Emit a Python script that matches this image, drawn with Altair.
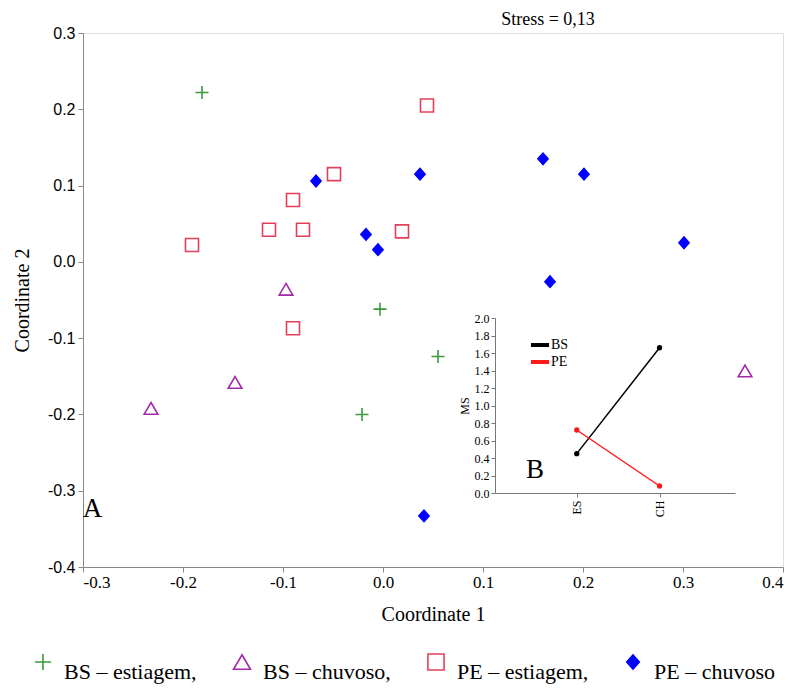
import altair as alt
import pandas as pd

# ---- main NMDS data ----
groups = ["BS – estiagem", "BS – chuvoso", "PE – estiagem", "PE – chuvoso"]
bs_est_x = [-0.181, -0.003, 0.055, -0.021]
bs_est_y = [0.222, -0.062, -0.124, -0.200]
bs_chu_x = [-0.097, -0.148, -0.232, 0.362]
bs_chu_y = [-0.036, -0.158, -0.192, -0.143]
pe_est_x = [0.044, -0.049, -0.090, -0.114, -0.080, -0.191, 0.019, -0.090]
pe_est_y = [0.205, 0.115, 0.081, 0.042, 0.042, 0.022, 0.040, -0.087]
pe_chu_x = [-0.067, 0.037, 0.160, 0.201, -0.017, -0.005, 0.301, 0.167, 0.041]
pe_chu_y = [0.106, 0.115, 0.135, 0.115, 0.036, 0.016, 0.025, -0.026, -0.333]

x_ticks = [-0.3, -0.2, -0.1, 0.0, 0.1, 0.2, 0.3, 0.4]
y_ticks = [-0.4, -0.3, -0.2, -0.1, 0.0, 0.1, 0.2, 0.3]

# ---- inset data ----
inset_periods = ["ES", "CH"]
inset_sites = ["BS", "PE"]
bs_ms = [0.45, 1.66]
pe_ms = [0.72, 0.08]
ms_ticks = [0.0, 0.2, 0.4, 0.6, 0.8, 1.0, 1.2, 1.4, 1.6, 1.8, 2.0]

colors = ["#3a9a3a", "#a22aa8", "#e4405e", "#0000ff"]
fills = ["transparent", "transparent", "transparent", "#0000ff"]
shapes = ["M-1,0H1M0,-1V1", "M0,-0.9L1.05,0.9L-1.05,0.9Z",
          "M-1,-1H1V1H-1Z", "M-0.78,0L0,-0.88L0.78,0L0,0.88Z"]

rows = []
for g, xs, ys in zip(groups, [bs_est_x, bs_chu_x, pe_est_x, pe_chu_x],
                     [bs_est_y, bs_chu_y, pe_est_y, pe_chu_y]):
    for a, b in zip(xs, ys):
        rows.append({"group": g, "c1": a, "c2": b})
df = pd.DataFrame(rows)

inset_rows = []
for s, vals in zip(inset_sites, [bs_ms, pe_ms]):
    for p, v in zip(inset_periods, vals):
        inset_rows.append({"site": s, "period": p, "ms": v})
dfi = pd.DataFrame(inset_rows)

SERIF = "Liberation Serif"
SANS = "Liberation Sans"
HYPHEN = "replace(format(datum.value, '.1f'), '\u2212', '-')"

xscale = alt.Scale(domain=[-0.3, 0.4], nice=False, zero=False)
yscale = alt.Scale(domain=[-0.4, 0.3], nice=False, zero=False)

legend_main = alt.Legend(
    title=None, orient="none", legendX=-51, legendY=618, direction="horizontal",
    labelFont=SERIF, labelFontSize=22, labelColor="black", labelBaseline="top",
    labelOffset=10, columnPadding=33, symbolSize=260, symbolStrokeWidth=1.6,
    padding=0, labelLimit=300,
    labelExpr="datum.label == 'PE – chuvoso' ? datum.label : datum.label + ','",
)

points = alt.Chart(df).mark_point(filled=False, size=169, strokeWidth=1.6, opacity=1).encode(
    x=alt.X("c1:Q", scale=xscale,
            axis=alt.Axis(title="Coordinate 1", values=x_ticks, labelExpr=HYPHEN, grid=False,
                          labelFont=SERIF, labelFontSize=17, titleFont=SERIF,
                          titleFontSize=20, titleFontWeight="normal", titlePadding=14,
                          labelPadding=2)),
    y=alt.Y("c2:Q", scale=yscale,
            axis=alt.Axis(title="Coordinate 2", values=y_ticks, labelExpr=HYPHEN, grid=False,
                          labelFont=SANS, labelFontSize=16, titleFont=SERIF,
                          titleFontSize=20, titleFontWeight="normal", titlePadding=15,
                          labelPadding=3)),
    stroke=alt.Stroke("group:N", scale=alt.Scale(domain=groups, range=colors), legend=legend_main),
    fill=alt.Fill("group:N", scale=alt.Scale(domain=groups, range=fills), legend=legend_main),
    shape=alt.Shape("group:N", scale=alt.Scale(domain=groups, range=shapes), legend=legend_main),
)

ann = pd.DataFrame({"c1": [0.165, -0.2905], "c2": [0.3175, -0.324],
                    "t": ["Stress = 0,13", "A"]})
stress = alt.Chart(ann.iloc[[0]]).mark_text(font=SERIF, fontSize=18, color="black").encode(
    x=alt.X("c1:Q", scale=xscale), y=alt.Y("c2:Q", scale=yscale), text="t:N")
label_a = alt.Chart(ann.iloc[[1]]).mark_text(font=SERIF, fontSize=27, color="black").encode(
    x=alt.X("c1:Q", scale=xscale), y=alt.Y("c2:Q", scale=yscale), text="t:N")

main = alt.layer(points, stress, label_a)

# ---- inset ----
ix = alt.X("period:N", sort=inset_periods,
           scale=alt.Scale(domain=inset_periods, range=[412, 652], padding=0.95, align=0.52),
           axis=alt.Axis(title=None, orient="bottom", offset=-74, labelAngle=270, grid=False,
                         labelFont=SERIF, labelFontSize=12, domainColor="#777777",
                         tickColor="#777777", tickSize=4, labelPadding=3))
iy = alt.Y("ms:Q", scale=alt.Scale(domain=[0, 2], nice=False, range=[460, 285]),
           axis=alt.Axis(title="MS", orient="left", offset=-412, values=ms_ticks, format=".1f",
                         grid=False,
                         labelFont=SERIF, labelFontSize=12, titleFont=SERIF, titleFontSize=12,
                         titleFontWeight="normal", titlePadding=3, domainColor="#777777",
                         tickColor="#777777", tickSize=4, labelPadding=2))
icolor = alt.Color("site:N", scale=alt.Scale(domain=inset_sites, range=["black", "#ff1a1a"]),
                   legend=alt.Legend(title=None, orient="none", legendX=448, legendY=303,
                                     symbolType="M-1.35,0H1.35", symbolStrokeWidth=4,
                                     symbolSize=180, labelFont=SERIF, labelFontSize=14,
                                     labelOffset=2, rowPadding=0, padding=0,
                                     labelColor="black"))

inset_lines = alt.Chart(dfi).mark_line(strokeWidth=1.5).encode(x=ix, y=iy, color=icolor, detail="site:N")
inset_pts = alt.Chart(dfi).mark_circle(size=28, opacity=1).encode(x=ix, y=iy, color=icolor)
label_b = alt.Chart(pd.DataFrame({"t": ["B"]})).mark_text(font=SERIF, fontSize=27, color="black").encode(
    x=alt.value(452), y=alt.value(437), text="t:N")

inset = alt.layer(inset_lines, inset_pts, label_b)

chart = alt.layer(main, inset).resolve_scale(
    x="independent", y="independent"
).properties(
    width=700, height=534,
    autosize=alt.AutoSizeParams(type="none"),
    padding={"left": 75, "top": 25, "right": 4, "bottom": 125},
).configure_view(stroke=None).configure_axis(
    grid=False, domainColor="#808080", domainWidth=1.5, tickColor="#808080",
    tickSize=5, labelColor="black", titleColor="black",
).configure(background="white")

chart.save("out.html", embed_options={"renderer": "svg", "actions": False})
